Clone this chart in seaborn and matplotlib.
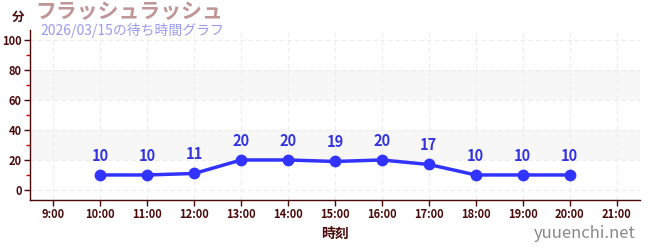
import matplotlib
matplotlib.use("Agg")
import matplotlib.pyplot as plt
import seaborn as sns
import pandas as pd
from matplotlib.ticker import MultipleLocator

hours = [10, 11, 12, 13, 14, 15, 16, 17, 18, 19, 20]
waits = [10, 10, 11, 20, 20, 19, 20, 17, 10, 10, 10]
tick_hours = list(range(9, 22))
tick_labels = [f"{h}:00" for h in tick_hours]
title = "フラッシュラッシュ"
subtitle = "2026/03/15の待ち時間グラフ"

sns.set_style("white")
plt.rcParams['font.family'] = ['Noto Sans CJK JP', 'DejaVu Sans']

df = pd.DataFrame({"hour": hours, "wait": waits})

fig = plt.figure(figsize=(6.5, 2.5), dpi=100)
ax = fig.add_axes([30/650, 50/250, 610/650, 170/250])

dark = "#4a0a0a"
ax.set_xlim(8.5, 21.5)
ax.set_ylim(-6.7, 106.7)

# bands
for lo, hi in [(20, 40), (60, 80)]:
    ax.axhspan(lo, hi, color="#f7f7f7", zorder=0, lw=0)

ax.set_xticks(tick_hours)
ax.set_xticklabels(tick_labels)
ax.set_yticks([0, 20, 40, 60, 80, 100])
ax.yaxis.set_minor_locator(MultipleLocator(10))
ax.grid(True, which="major", color="#ececec", linestyle=(0, (4, 3)), lw=0.8)
ax.set_axisbelow(True)

sns.lineplot(data=df, x="hour", y="wait", ax=ax, color="#3333ff", lw=2.5,
             marker="o", markersize=8.5, markeredgewidth=0, zorder=3)

for h, w in zip(hours, waits):
    ax.annotate(str(w), (h, w), xytext=(0, 8), textcoords="offset points",
                ha="center", va="bottom", color="#3333dd", fontsize=10.5,
                fontweight="bold")

for s in ["top", "right"]:
    ax.spines[s].set_visible(False)
for s in ["left", "bottom"]:
    ax.spines[s].set_color(dark)
    ax.spines[s].set_linewidth(1)

ax.tick_params(axis="both", which="major", length=4, width=1, color=dark,
               labelcolor=dark, labelsize=8, direction="out", pad=2)
ax.tick_params(axis="y", which="minor", length=3, width=1, color="#cc0000", left=True)
ax.tick_params(axis="x", which="major", bottom=True)
ax.tick_params(axis="y", which="major", left=True)
for lab in ax.get_xticklabels() + ax.get_yticklabels():
    lab.set_fontweight("bold")

ax.set_xlabel("時刻", color=dark, fontsize=10, fontweight="bold", labelpad=4)
ax.set_ylabel("")

fig.text(12/650, 1 - 17/250, "分", color=dark, fontsize=9, fontweight="bold",
         ha="left", va="center")
fig.text(35/650, 1 - 12/250, title, color="#c09595", fontsize=15, fontweight="bold",
         ha="left", va="center")
fig.text(40/650, 1 - 31/250, subtitle, color="#9a9af0", fontsize=10,
         ha="left", va="center")
fig.text(636/650, 1 - 234/250, "yuuenchi.net", color="#888888", fontsize=12,
         ha="right", va="center")

fig.savefig("out.png", dpi=100)
